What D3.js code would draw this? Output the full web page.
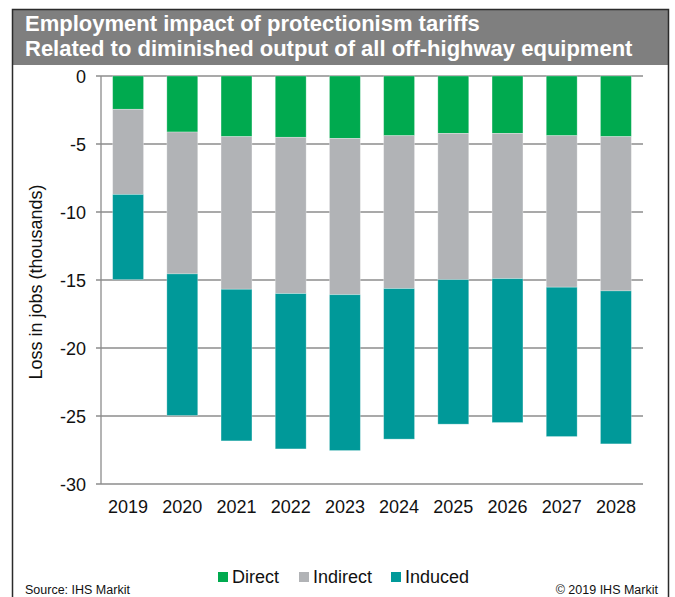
<!DOCTYPE html>
<html><head><meta charset="utf-8">
<script src="https://cdn.jsdelivr.net/npm/d3@7"></script>
<style>body{margin:0;background:#fff}svg{display:block}text{font-family:"Liberation Sans",Arial,sans-serif}</style>
</head><body>
<svg id="c" width="675" height="597"></svg>
<script>
const years = ["2019","2020","2021","2022","2023","2024","2025","2026","2027","2028"];
const direct   = [-2.45,-4.12,-4.46,-4.51,-4.59,-4.39,-4.22,-4.22,-4.39,-4.46];
const indirect = [-6.26,-10.43,-11.22,-11.49,-11.49,-11.24,-10.75,-10.68,-11.14,-11.34];
const induced  = [-6.26,-10.41,-11.15,-11.42,-11.46,-11.07,-10.63,-10.58,-10.98,-11.25];
const seriesNames = ["Direct","Indirect","Induced"];
const seriesColors = ["#00AA4F","#B1B3B6","#009999"];
const yTicks = [0,-5,-10,-15,-20,-25,-30];
const titleLines = ["Employment impact of protectionism tariffs","Related to diminished output of all off-highway equipment"];

const svg = d3.select("#c");
// frame
svg.append("rect").attr("x",12).attr("y",9).attr("width",656).attr("height",56).attr("fill","#7F7F7F");
svg.append("path").attr("d","M12.5,600 V9.5 H668.5 V600").attr("fill","none").attr("stroke","#2b2b2b").attr("stroke-width",1.5);
svg.selectAll("text.title").data(titleLines).join("text").attr("class","title")
  .attr("x",25).attr("y",(d,i)=>31+i*25).attr("fill","#fff").attr("font-weight","bold")
  .attr("font-size",22).text(d=>d);

const x = d3.scaleBand().domain(years).range([101,643]).paddingInner(0.43).paddingOuter(0.215);
const y = d3.scaleLinear().domain([-30,0]).range([484,76]);

// grid
svg.append("g").selectAll("line").data(yTicks).join("line")
  .attr("x1",96).attr("x2",643).attr("y1",d=>y(d)).attr("y2",d=>y(d))
  .attr("stroke","#8C8C8C").attr("stroke-width",1.3);
svg.append("line").attr("x1",101).attr("x2",101).attr("y1",y(0)).attr("y2",y(-30)).attr("stroke","#8C8C8C").attr("stroke-width",1.3);

const rows = years.map((yr,i)=>({year:yr, Direct:-direct[i], Indirect:-indirect[i], Induced:-induced[i]}));
const stack = d3.stack().keys(seriesNames)(rows);
const g = svg.append("g");
stack.forEach((s,si)=>{
  g.selectAll(null).data(s).join("rect")
    .attr("x",d=>x(d.data.year)).attr("width",x.bandwidth())
    .attr("y",d=>y(-d[0])).attr("height",d=>y(-d[1])-y(-d[0]))
    .attr("fill",seriesColors[si]).attr("stroke","#fff").attr("stroke-opacity",0.35).attr("stroke-width",0.8);
});

// y labels
const yAxis = d3.axisLeft(y).tickValues(yTicks).tickSize(0).tickPadding(0).tickFormat(d => String(d));
const ya = svg.append("g").attr("transform","translate(86,0)").call(yAxis);
ya.select(".domain").remove();
ya.selectAll("text").attr("font-size",18).attr("fill","#111").attr("font-family","Liberation Sans, Arial").attr("dy","0.35em");
// x labels
const xAxis = d3.axisBottom(x).tickSize(0).tickPadding(0);
const xa = svg.append("g").attr("transform","translate(0,499)").call(xAxis);
xa.select(".domain").remove();
xa.selectAll("text").attr("font-size",18).attr("fill","#111").attr("font-family","Liberation Sans, Arial").attr("dy","0.75em");

svg.append("text").attr("transform","translate(42,282) rotate(-90)").attr("text-anchor","middle")
  .attr("font-size",18).attr("fill","#111").text("Loss in jobs (thousands)");

// legend
const legX = [218,299,391];
seriesNames.forEach((n,i)=>{
  svg.append("rect").attr("x",legX[i]).attr("y",572).attr("width",10).attr("height",10).attr("fill",seriesColors[i]);
  svg.append("text").attr("x",legX[i]+14).attr("y",583).attr("font-size",18).attr("fill","#111").text(n);
});
svg.append("text").attr("x",25).attr("y",594).attr("font-size",12.5).attr("fill","#111").text("Source: IHS Markit");
svg.append("text").attr("x",658).attr("y",594).attr("text-anchor","end").attr("font-size",12.5).attr("fill","#111").text("© 2019 IHS Markit");
</script>
</body></html>
